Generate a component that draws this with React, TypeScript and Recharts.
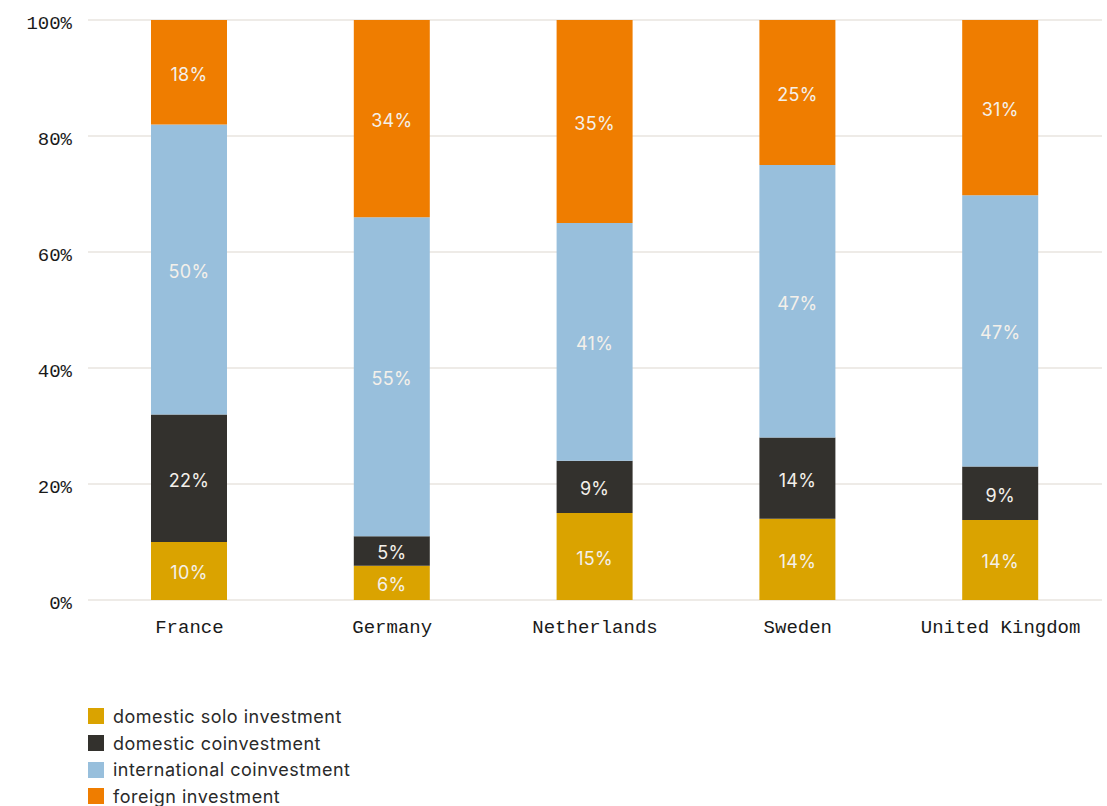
import { BarChart, Bar, XAxis, YAxis, CartesianGrid, LabelList } from "recharts"

const countries = ["France", "Germany", "Netherlands", "Sweden", "United Kingdom"]
const domesticSolo = [10, 5.9, 15, 14, 13.8]
const domesticCo = [22, 5.1, 9, 14, 9.2]
const internationalCo = [50, 55, 41, 47, 46.8]
const foreign = [18, 34, 35, 25, 30.5]
const yTicks = [0, 20, 40, 60, 80, 100]

const series = [
  { key: "solo", name: "domestic solo investment", color: "#DAA300" },
  { key: "dco", name: "domestic coinvestment", color: "#33312D" },
  { key: "ico", name: "international coinvestment", color: "#98BFDC" },
  { key: "foreign", name: "foreign investment", color: "#EF7D00" },
]

const data = countries.map((c, i) => ({
  country: c,
  solo: domesticSolo[i],
  dco: domesticCo[i],
  ico: internationalCo[i],
  foreign: foreign[i],
}))

const monoTick = { fill: "#1a1a1a", fontSize: 19, fontFamily: "'Liberation Mono', 'DejaVu Sans Mono', monospace" }

export default function App() {
  return (
    <div style={{ position: "absolute", left: 0, top: 0, width: 1107, height: 806, overflow: "hidden", background: "#fff" }}>
      <BarChart width={1107} height={650} data={data} margin={{ top: 20, right: 5, left: 0, bottom: 20 }}>
        <CartesianGrid vertical={false} stroke="#E8E4DF" strokeWidth={1.5} />
        <XAxis
          dataKey="country"
          axisLine={false}
          tickLine={false}
          tickSize={0}
          tickMargin={20}
          height={30}
          tick={monoTick}
        />
        <YAxis
          width={88}
          domain={[0, 100]}
          ticks={yTicks}
          allowDataOverflow
          axisLine={false}
          tickLine={false}
          tickSize={0}
          tickMargin={16}
          tickFormatter={(v) => `${v}%`}
          tick={{ ...monoTick, dy: 2 }}
        />
        {series.map((s) => (
          <Bar key={s.key} dataKey={s.key} name={s.name} stackId="a" fill={s.color} barSize={76} isAnimationActive={false}>
            <LabelList
              dataKey={s.key}
              position="center"
              formatter={(v: number) => `${Math.round(v)}%`}
              fill="#F4F0EA"
              dy={2}
              style={{ fontSize: 18, letterSpacing: 0.3, fontFamily: "Inter, 'Noto Sans', sans-serif" }}
            />
          </Bar>
        ))}
      </BarChart>
      <div style={{ position: "absolute", left: 88, top: 703, fontFamily: "Inter, 'Noto Sans', sans-serif", fontSize: 18, letterSpacing: 0.5, color: "#2a2a2a" }}>
        {series.map((s) => (
          <div key={s.key} style={{ display: "flex", alignItems: "center", height: 26.7 }}>
            <span style={{ width: 16, height: 16, background: s.color, marginRight: 9, display: "inline-block" }} />
            <span>{s.name}</span>
          </div>
        ))}
      </div>
    </div>
  )
}
